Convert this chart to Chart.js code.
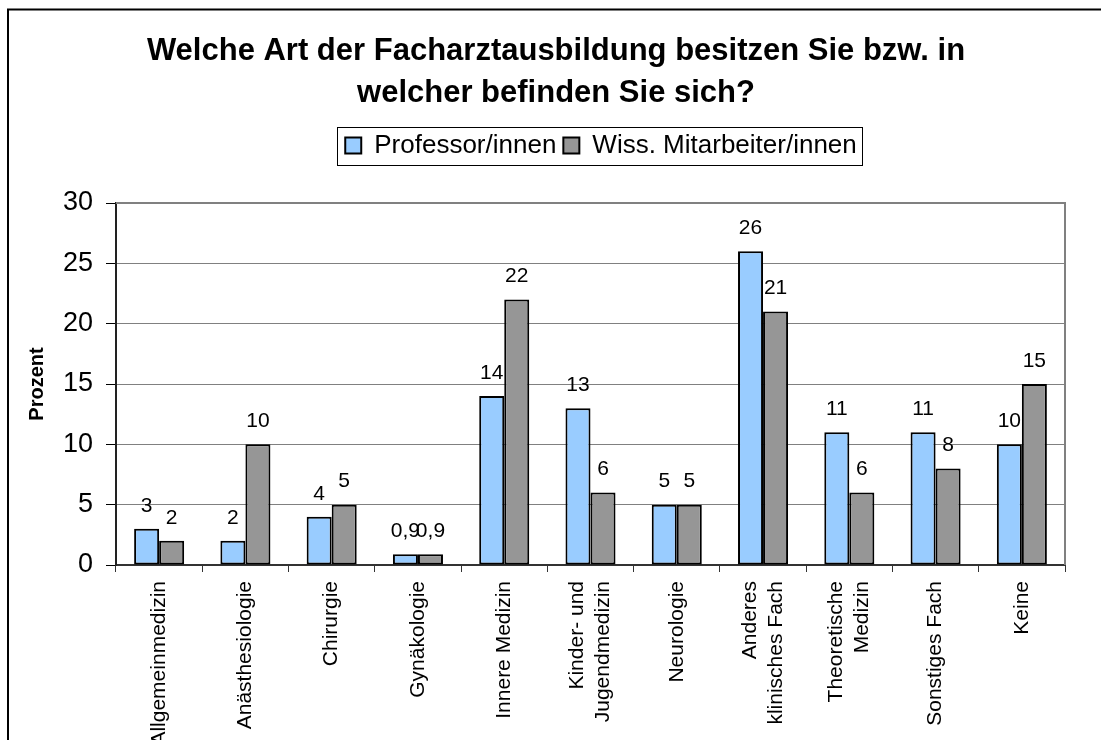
<!DOCTYPE html>
<html lang="de">
<head>
<meta charset="utf-8">
<title>Facharztausbildung</title>
<script src="https://cdn.jsdelivr.net/npm/chart.js@4/dist/chart.umd.min.js"></script>
<style>
  html, body { margin: 0; padding: 0; background: #fff; overflow: hidden; }
  #wrap { position: relative; width: 1101px; height: 740px; }
</style>
</head>
<body>
<div id="wrap"><canvas id="chart" width="1101" height="740"></canvas></div>
<script>
// Survey data: share (%) per type of specialist training
const categories = [
  'Allgemeinmedizin', 'Anästhesiologie', 'Chirurgie', 'Gynäkologie', 'Innere Medizin',
  ['Kinder- und', 'Jugendmedizin'], 'Neurologie', ['Anderes', 'klinisches Fach'],
  ['Theoretische', 'Medizin'], 'Sonstiges Fach', 'Keine'
];
const professoren = [3, 2, 4, 0.9, 14, 13, 5, 26, 11, 11, 10];
const mitarbeiter = [2, 10, 5, 0.9, 22, 6, 5, 21, 6, 8, 15];
const seriesNames = ['Professor/innen', 'Wiss. Mitarbeiter/innen'];
const yTicks = [0, 5, 10, 15, 20, 25, 30];
const titleLines = ['Welche Art der Facharztausbildung besitzen Sie bzw. in', 'welcher befinden Sie sich?'];
const yTitle = 'Prozent';

const FONT = '"Liberation Sans", Arial, Helvetica, sans-serif';
const fmt = v => String(v).replace('.', ',');

// Outer frame of the chart object
const framePlugin = {
  id: 'frame',
  beforeDraw(chart) {
    const ctx = chart.ctx;
    ctx.save();
    ctx.fillStyle = '#fff';
    ctx.fillRect(0, 0, chart.width, chart.height);
    ctx.strokeStyle = '#000';
    ctx.lineWidth = 2;
    ctx.beginPath();
    ctx.moveTo(8, chart.height + 5);
    ctx.lineTo(8, 9.5);
    ctx.lineTo(chart.width + 5, 9.5);
    ctx.stroke();
    ctx.restore();
  }
};

// Place title and legend boxes after the layout pass
const placementPlugin = {
  id: 'placement',
  afterLayout(chart) {
    const t = chart.titleBlock;
    if (t) { const dx = 556 - (t.left + t.right) / 2; t.left += dx; t.right += dx; }
    const lg = chart.legend;
    if (lg) {
      const dx = 601 - (lg.left + lg.right) / 2;
      lg.left += dx; lg.right += dx;
      const dy = 125.5 - lg.top;
      lg.top += dy; lg.bottom += dy;
    }
  }
};

// Center multi-line category labels on their tick
const stackedLabelPlugin = {
  id: 'stackedLabels',
  beforeDraw(chart) {
    const x = chart.scales.x;
    const lh = x.options.ticks.font.size * x.options.ticks.font.lineHeight;
    x.getLabelItems().forEach(it => {
      if (Array.isArray(it.label) && it.label.length > 1 && !it._centered) {
        it.options.translation[0] -= (it.label.length - 1) * lh / 2;
        it._centered = true;
      }
    });
  }
};

// Gray border on top and right of the plot area
const plotBorderPlugin = {
  id: 'plotBorder',
  beforeDatasetsDraw(chart) {
    const {ctx, chartArea: a} = chart;
    ctx.save();
    ctx.strokeStyle = '#808080';
    ctx.lineWidth = 2;
    ctx.beginPath();
    ctx.moveTo(a.left, a.top);
    ctx.lineTo(a.right, a.top);
    ctx.lineTo(a.right, a.bottom);
    ctx.stroke();
    ctx.restore();
  }
};

// Value labels above each bar
const valueLabelPlugin = {
  id: 'valueLabels',
  afterDatasetsDraw(chart) {
    const ctx = chart.ctx;
    ctx.save();
    ctx.font = '21px ' + FONT;
    ctx.fillStyle = '#000';
    ctx.textAlign = 'center';
    ctx.textBaseline = 'middle';
    chart.data.datasets.forEach((ds, di) => {
      chart.getDatasetMeta(di).data.forEach((bar, i) => {
        ctx.fillText(fmt(ds.data[i]), bar.x, bar.y - 23);
      });
    });
    ctx.restore();
  }
};

// Thin frame around the legend items
const legendFramePlugin = {
  id: 'legendFrame',
  afterDraw(chart) {
    const hb = chart.legend && chart.legend.legendHitBoxes;
    if (!hb || !hb.length) return;
    const first = hb[0], last = hb[hb.length - 1];
    const cy = first.top + first.height / 2;
    const ctx = chart.ctx;
    ctx.save();
    ctx.strokeStyle = '#000';
    ctx.lineWidth = 1;
    const l = Math.round(first.left - 8) + 0.5;
    const r = Math.round(last.left + last.width + 5) + 0.5;
    const t = Math.round(cy - 19) + 0.5;
    ctx.strokeRect(l, t, r - l, 38);
    ctx.restore();
  }
};

new Chart(document.getElementById('chart'), {
  type: 'bar',
  data: {
    labels: categories,
    datasets: [
      {
        label: seriesNames[0],
        data: professoren,
        backgroundColor: '#99CCFF',
        borderColor: '#000',
        borderWidth: 2,
        borderSkipped: false
      },
      {
        label: seriesNames[1],
        data: mitarbeiter,
        backgroundColor: '#969696',
        borderColor: '#000',
        borderWidth: 2,
        borderSkipped: false
      }
    ]
  },
  options: {
    responsive: false,
    animation: false,
    devicePixelRatio: 1,
    events: [],
    categoryPercentage: 0.58,
    barPercentage: 1.0,
    layout: { padding: { left: 20, right: 36, top: 0, bottom: 0 } },
    plugins: {
      title: {
        display: true,
        text: titleLines,
        color: '#000',
        font: { family: FONT, size: 31, weight: 'bold', lineHeight: 42 / 31 },
        padding: { top: 30, bottom: 46 }
      },
      legend: {
        display: true,
        position: 'top',
        labels: {
          color: '#000',
          font: { family: FONT, size: 26 },
          boxWidth: 16,
          boxHeight: 16,
          padding: 7
        }
      },
      tooltip: { enabled: false }
    },
    scales: {
      x: {
        grid: {
          display: true,
          drawOnChartArea: false,
          drawTicks: true,
          tickLength: 7,
          tickColor: '#333',
          tickWidth: 1,
          offset: true
        },
        border: { display: true, color: '#333', width: 2 },
        ticks: {
          color: '#000',
          font: { family: FONT, size: 21, lineHeight: 1.25 },
          maxRotation: 90,
          minRotation: 90,
          autoSkip: false,
          padding: 9
        },
        afterFit(scale) { scale.height = 175; }
      },
      y: {
        min: 0,
        max: 30,
        afterBuildTicks(scale) { scale.ticks = yTicks.map(v => ({ value: v })); },
        grid: {
          color: '#808080',
          lineWidth: 1,
          drawTicks: true,
          tickLength: 10,
          tickColor: '#000'
        },
        border: { display: true, color: '#222', width: 2 },
        ticks: {
          color: '#000',
          font: { family: FONT, size: 27 },
          padding: 13
        },
        title: {
          display: true,
          text: yTitle,
          color: '#000',
          font: { family: FONT, size: 20, weight: 'bold' },
          padding: { top: 5, bottom: 0 }
        },
        afterFit(scale) { scale.width = 96; }
      }
    }
  },
  plugins: [framePlugin, placementPlugin, stackedLabelPlugin, plotBorderPlugin, valueLabelPlugin, legendFramePlugin]
});
</script>
</body>
</html>
